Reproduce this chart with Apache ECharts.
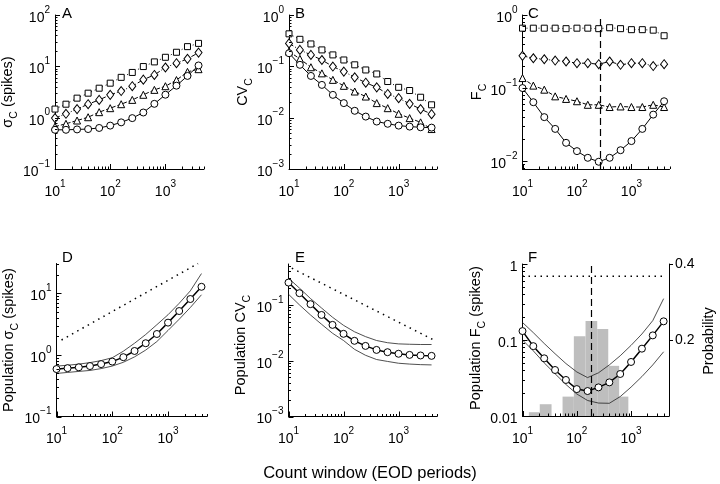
<!DOCTYPE html>
<html><head><meta charset="utf-8">
<script src="https://cdn.jsdelivr.net/npm/echarts@6/dist/echarts.min.js"></script>
<style>html,body{margin:0;padding:0;background:#fff}#c{width:720px;height:484px}</style>
</head><body><div id="c"></div>
<script>
// ---- data (count windows in EOD periods) ----
const windows = [10, 15.8, 25.1, 39.8, 63.1, 100, 158, 251, 398, 631, 1000, 1585, 2512, 3981];

// Panel A: sigma_C (spikes)
const aSquare  = [1.47, 1.83, 2.4, 3.0, 3.75, 4.7, 6.1, 7.6, 9.9, 12.2, 15, 18.8, 24.2, 28];
const aDiamond = [0.98, 1.19, 1.47, 1.83, 2.22, 2.78, 3.3, 4.1, 5.5, 6.8, 9.5, 11.5, 14, 18.5];
const aTri     = [0.67, 0.76, 0.88, 1.02, 1.28, 1.53, 1.83, 2.22, 2.79, 3.48, 4.1, 5.4, 7.8, 8.8];
const aCircle  = [0.58, 0.58, 0.59, 0.60, 0.63, 0.70, 0.81, 0.98, 1.26, 1.86, 2.8, 4.2, 6.5, 10.4];

// Panel B: CV_C
const bSquare  = [0.43, 0.336, 0.273, 0.209, 0.167, 0.133, 0.107, 0.085, 0.071, 0.0506, 0.039, 0.0338, 0.025, 0.0178];
const bDiamond = [0.28, 0.209, 0.167, 0.133, 0.099, 0.079, 0.061, 0.048, 0.039, 0.029, 0.024, 0.0186, 0.0147, 0.0117];
const bTri     = [0.194, 0.14, 0.096, 0.073, 0.0545, 0.0417, 0.0323, 0.0258, 0.0192, 0.0153, 0.0119, 0.0098, 0.0081, 0.006];
const bCircle  = [0.18, 0.107, 0.065, 0.0435, 0.0278, 0.0192, 0.0136, 0.0105, 0.0084, 0.0076, 0.0070, 0.0067, 0.0065, 0.0064];

// Panel C: F_C
const cSquare  = [0.66, 0.66, 0.66, 0.66, 0.65, 0.66, 0.66, 0.65, 0.67, 0.65, 0.63, 0.63, 0.62, 0.52];
const cDiamond = [0.276, 0.256, 0.248, 0.238, 0.231, 0.219, 0.219, 0.212, 0.231, 0.208, 0.219, 0.219, 0.2, 0.212];
const cTri     = [0.137, 0.108, 0.095, 0.077, 0.071, 0.066, 0.059, 0.059, 0.055, 0.056, 0.055, 0.055, 0.059, 0.055];
const cCircle  = [0.1, 0.064, 0.040, 0.0276, 0.0178, 0.0137, 0.0111, 0.0098, 0.0111, 0.0141, 0.0188, 0.0276, 0.0433, 0.066];
const cDashX = 270;

// Panel D: population sigma_C
const dCircle = [0.59, 0.61, 0.63, 0.66, 0.71, 0.78, 0.92, 1.16, 1.55, 2.19, 3.35, 5.17, 8.1, 12.8];
const dUpper  = [0.66, 0.68, 0.71, 0.75, 0.81, 0.9, 1.15, 1.55, 2.15, 3.1, 4.5, 6.9, 11, 21];
const dLower  = [0.5, 0.52, 0.54, 0.56, 0.6, 0.66, 0.76, 0.93, 1.2, 1.65, 2.5, 3.8, 5.9, 9.5];
const dDotX = [12.3, 3450];
const dDotY = [1.75, 30.6];

// Panel E: population CV_C
const eCircle = [0.251, 0.162, 0.103, 0.066, 0.0438, 0.0303, 0.0227, 0.0184, 0.0156, 0.0142, 0.0133, 0.0127, 0.0124, 0.0122];
const eUpper  = [0.30, 0.2, 0.13, 0.088, 0.06, 0.043, 0.033, 0.027, 0.023, 0.021, 0.020, 0.0197, 0.0195, 0.0195];
const eLower  = [0.155, 0.10, 0.066, 0.045, 0.031, 0.023, 0.016, 0.0125, 0.0105, 0.0097, 0.009, 0.0087, 0.0085, 0.0084];
const eDotX = [11.5, 4330];
const eDotY = [0.454, 0.0236];

// Panel F: population F_C + histogram of optimal windows
const fCircle = [0.131, 0.083, 0.0574, 0.0403, 0.0298, 0.0226, 0.0213, 0.0238, 0.0277, 0.0357, 0.0514, 0.0769, 0.115, 0.176];
const fUpper  = [0.17, 0.125, 0.09, 0.066, 0.049, 0.038, 0.032, 0.037, 0.047, 0.062, 0.085, 0.12, 0.18, 0.35];
const fLower  = [0.1, 0.072, 0.05, 0.036, 0.026, 0.0195, 0.016, 0.0148, 0.0147, 0.018, 0.024, 0.033, 0.047, 0.07];
const fDotX = [10, 4500];
const fDotY = [0.69, 0.69];
const fDashX = 188;
const histLo   = [13.1, 20.8, 54.7, 88.3, 145, 238, 380, 603];
const histHi   = [20.8, 34.3, 88.3, 145, 238, 380, 603, 891];
const histProb = [0.010, 0.031, 0.051, 0.21, 0.25, 0.229, 0.132, 0.051];

const rightTicks = [0.2, 0.4];

// ---- helpers ----
const FONT = '"Liberation Sans", Arial, Helvetica, sans-serif';
const X_MIN = 10, X_MAX = 5000;
const yRanges = [[0.1, 100], [0.001, 1], [0.0078, 1], [0.1, 30.6], [0.001, 0.54], [0.01, 1]];
const grids = [
  {left: 55, top: 15, width: 149, height: 154},
  {left: 289, top: 15, width: 148, height: 154},
  {left: 522.5, top: 15, width: 147, height: 154},
  {left: 56.5, top: 263.5, width: 150.5, height: 153},
  {left: 288.5, top: 264, width: 148.5, height: 152.5},
  {left: 522.5, top: 264, width: 146.5, height: 152}
];

function isPow10(v) { const l = Math.log10(v); return Math.abs(l - Math.round(l)) < 1e-6; }
function powFmt(v) {
  if (!isPow10(v)) return '';
  const e = Math.round(Math.log10(v));
  return '{b|10}{s|' + (e < 0 ? '\u2212' + (-e) : e) + '}';
}
function plainFmt(v) {
  if (!isPow10(v)) return '';
  const e = Math.round(Math.log10(v));
  return '{b|' + Math.pow(10, e).toFixed(Math.max(0, -e)) + '}';
}
const labRich = {
  b: {fontSize: 14, lineHeight: 20, fontFamily: FONT, color: '#000', verticalAlign: 'bottom'},
  s: {fontSize: 10, lineHeight: 10, fontFamily: FONT, color: '#000', verticalAlign: 'top'}
};

const pts = ys => windows.map((x, i) => [x, ys[i]]);
const pairs = (xs, ys) => xs.map((x, i) => [x, ys[i]]);

function markerSeries(g, ys, symbol, size, dash, lw) {
  return {
    type: 'line', xAxisIndex: g, yAxisIndex: g, data: pts(ys),
    symbol: symbol, symbolSize: size, showAllSymbol: true, z: 3,
    itemStyle: {color: '#fff', borderColor: '#000', borderWidth: 1},
    lineStyle: {color: '#000', width: lw || 1, type: dash},
    emphasis: {disabled: true}, animation: false
  };
}
function plainLine(g, data, width, dash, color) {
  return {
    type: 'line', xAxisIndex: g, yAxisIndex: g, data: data, symbol: 'none', z: 2,
    lineStyle: {color: color || '#000', width: width, type: dash || 'solid'},
    emphasis: {disabled: true}, animation: false
  };
}

function tickData(g) {
  const [ymin, ymax] = yRanges[g];
  const out = [];
  for (let e = 1; e <= 4; e++) for (let m = 1; m <= 9; m++) {
    const v = m * Math.pow(10, e);
    if (v >= X_MIN * 0.999 && v <= X_MAX * 1.001) out.push([v, ymin, m === 1 ? 0 : 1]);
  }
  for (let e = Math.floor(Math.log10(ymin)); e <= Math.ceil(Math.log10(ymax)); e++) for (let m = 1; m <= 9; m++) {
    const v = m * Math.pow(10, e);
    if (v >= ymin * 0.999 && v <= ymax * 1.001) out.push([X_MIN, v, m === 1 ? 2 : 3]);
  }
  return out;
}
function tickSeries(g) {
  return {
    type: 'custom', xAxisIndex: g, yAxisIndex: g, data: tickData(g), silent: true, z: 6,
    clip: false, animation: false,
    renderItem: function (params, api) {
      const k = api.value(2);
      const p = api.coord([api.value(0), api.value(1)]);
      const len = (k === 0 || k === 2) ? 5 : 2.5;
      const shape = k < 2
        ? {x1: Math.round(p[0]) + 0.5, y1: p[1], x2: Math.round(p[0]) + 0.5, y2: p[1] - len}
        : {x1: p[0], y1: Math.round(p[1]) + 0.5, x2: p[0] + len, y2: Math.round(p[1]) + 0.5};
      return {type: 'line', shape: shape, style: {stroke: '#000', lineWidth: 1}};
    }
  };
}

const xAxes = grids.map((g, i) => ({
  type: 'log', logBase: 10, gridIndex: i, min: X_MIN, max: X_MAX,
  axisLine: {show: true, lineStyle: {color: '#000', width: 1}},
  axisTick: {show: false}, splitLine: {show: false}, minorTick: {show: false},
  axisLabel: {formatter: powFmt, rich: labRich, margin: 10, color: '#000'}
}));
const yAxes = grids.map((g, i) => ({
  type: 'log', logBase: 10, gridIndex: i, min: yRanges[i][0], max: yRanges[i][1],
  axisLine: {show: true, lineStyle: {color: '#000', width: 1}},
  axisTick: {show: false}, splitLine: {show: false}, minorTick: {show: false},
  axisLabel: {formatter: i === 5 ? plainFmt : powFmt, rich: labRich, margin: 5, color: '#000'}
}));
yAxes.push({
  type: 'value', gridIndex: 5, position: 'right', min: 0, max: 0.4, interval: 0.2,
  axisLine: {show: true, lineStyle: {color: '#000', width: 1}},
  axisTick: {show: true, inside: false, length: 4, lineStyle: {color: '#000'}, customValues: rightTicks},
  splitLine: {show: false},
  axisLabel: {customValues: rightTicks, formatter: v => v === 0 ? '' : v.toFixed(1),
    fontSize: 14, fontFamily: FONT, color: '#000', margin: 6}
});

const series = [];
// A
series.push(markerSeries(0, aSquare, 'rect', 6, [1, 3]));
series.push(markerSeries(0, aDiamond, 'diamond', [7, 9], [5, 2, 1, 2]));
series.push(markerSeries(0, aTri, 'triangle', 7, [4, 2]));
series.push(markerSeries(0, aCircle, 'circle', 7, 'solid'));
// B
series.push(markerSeries(1, bSquare, 'rect', 6, [1, 3]));
series.push(markerSeries(1, bDiamond, 'diamond', [7, 9], [5, 2, 1, 2]));
series.push(markerSeries(1, bTri, 'triangle', 7, [4, 2]));
series.push(markerSeries(1, bCircle, 'circle', 7, 'solid'));
// C
series.push(markerSeries(2, cSquare, 'rect', 6, [1, 3]));
series.push(markerSeries(2, cDiamond, 'diamond', [7, 9], [5, 2, 1, 2]));
series.push(markerSeries(2, cTri, 'triangle', 7, [4, 2]));
const cc = markerSeries(2, cCircle, 'circle', 7, 'solid');
cc.markLine = {symbol: 'none', silent: true, label: {show: false}, animation: false,
  lineStyle: {type: [7, 4], color: '#000', width: 1.2}, data: [{xAxis: cDashX}]};
series.push(cc);
// D
series.push(plainLine(3, pairs(dDotX, dDotY), 1.5, [1.5, 4.5]));
series.push(plainLine(3, pts(dUpper), 0.8, 'solid', '#222'));
series.push(plainLine(3, pts(dLower), 0.8, 'solid', '#222'));
series.push(markerSeries(3, dCircle, 'circle', 7, 'solid', 1.5));
// E
series.push(plainLine(4, pairs(eDotX, eDotY), 1.5, [1.5, 4.5]));
series.push(plainLine(4, pts(eUpper), 0.8, 'solid', '#222'));
series.push(plainLine(4, pts(eLower), 0.8, 'solid', '#222'));
series.push(markerSeries(4, eCircle, 'circle', 7, 'solid', 1.5));
// F histogram
series.push({
  type: 'custom', xAxisIndex: 5, yAxisIndex: 6, z: 1, silent: true, animation: false,
  data: histLo.map((lo, i) => [lo, histHi[i], histProb[i]]),
  encode: {x: [0, 1], y: 2},
  renderItem: function (params, api) {
    const a = api.coord([api.value(0), 0]);
    const b = api.coord([api.value(1), api.value(2)]);
    return {type: 'rect', shape: {x: a[0], y: b[1], width: b[0] - a[0], height: a[1] - b[1]},
      style: {fill: '#bebebe'}};
  }
});
series.push(plainLine(5, pairs(fDotX, fDotY), 1.5, [1.5, 4.5]));
series.push(plainLine(5, pts(fUpper), 0.8, 'solid', '#222'));
series.push(plainLine(5, pts(fLower), 0.8, 'solid', '#222'));
const fc = markerSeries(5, fCircle, 'circle', 7, 'solid', 1.5);
fc.markLine = {symbol: 'none', silent: true, label: {show: false}, animation: false,
  lineStyle: {type: [7, 4], color: '#000', width: 1.2}, data: [{xAxis: fDashX}]};
series.push(fc);
// ticks
for (let g = 0; g < 6; g++) series.push(tickSeries(g));

// ---- titles ----
const tRich = {
  t: {fontSize: 14.5, lineHeight: 20, fontFamily: FONT, fill: '#000', verticalAlign: 'top'},
  u: {fontSize: 10.5, lineHeight: 10, fontFamily: FONT, fill: '#000', verticalAlign: 'bottom'}
};
function vtitle(x, y, text) {
  return {type: 'text', x: x, y: y, rotation: Math.PI / 2, silent: true,
    style: {text: text, rich: tRich, align: 'center', verticalAlign: 'middle', fill: '#000',
      fontFamily: FONT, fontSize: 14.5}};
}
function letter(x, y, t) {
  return {type: 'text', x: x, y: y, silent: true,
    style: {text: t, fontFamily: FONT, fontSize: 15, fill: '#000', align: 'left', verticalAlign: 'middle'}};
}
const graphic = [
  vtitle(10, 92, '{t|\u03c3}{u|C}{t| (spikes)}'),
  vtitle(245, 92, '{t|CV}{u|C}'),
  vtitle(479, 92, '{t|F}{u|C}'),
  vtitle(11, 340, '{t|Population \u03c3}{u|C}{t| (spikes)}'),
  vtitle(243, 345, '{t|Population CV}{u|C}'),
  vtitle(478, 338, '{t|Population F}{u|C}{t| (spikes)}'),
  vtitle(711, 341, '{t|Probability}'),
  letter(62, 13.5, 'A'), letter(295, 13.5, 'B'), letter(528, 13.5, 'C'),
  letter(62, 258, 'D'), letter(295, 258, 'E'), letter(528, 258, 'F'),
  {type: 'text', x: 370, y: 473, silent: true,
    style: {text: 'Count window (EOD periods)', fontFamily: FONT, fontSize: 16.5, fill: '#000',
      align: 'center', verticalAlign: 'middle'}}
];

const chart = echarts.init(document.getElementById('c'), null, {renderer: 'canvas'});
chart.setOption({
  animation: false, backgroundColor: '#fff',
  grid: grids.map(g => Object.assign({containLabel: false}, g)),
  xAxis: xAxes, yAxis: yAxes, series: series, graphic: graphic
});
</script></body></html>
